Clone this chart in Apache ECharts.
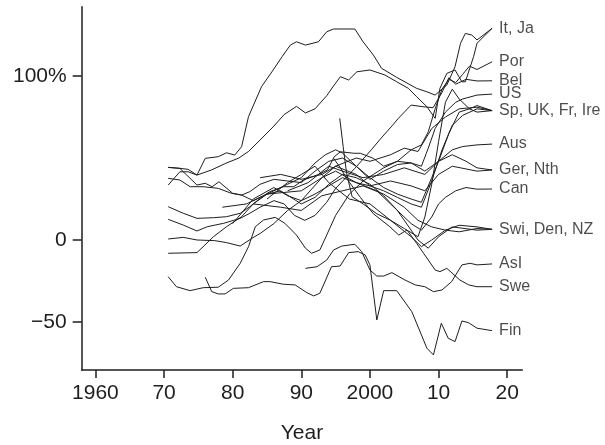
<!DOCTYPE html>
<html>
<head>
<meta charset="utf-8">
<script src="https://cdn.jsdelivr.net/npm/echarts@6/dist/echarts.min.js"></script>
<style>
  html, body { margin: 0; padding: 0; background: #fff; }
  #chart { width: 605px; height: 445px; }
</style>
</head>
<body>
<div id="chart"></div>
<script>
// Per-country series: [year, percent]
const It = [[1970.6,44.3],[1972.3,43.7],[1973.5,43.1],[1974.8,39.6],[1976,49.8],[1977.9,50.8],[1979.1,53.2],[1980.3,51.8],[1981.3,56.9],[1982.3,75.2],[1984.2,93.5],[1985.9,103.7],[1987.2,111.8],[1988.4,118.9],[1989.3,120.9],[1990.6,118.9],[1992.5,120.9],[1993.7,127],[1994.7,128.7],[1997.8,128.7],[1999,120.9],[2000.5,112.8],[2001.7,104.7],[2003.9,99.2],[2006.8,92.5],[2008.3,90.4],[2009.5,88.4],[2011.2,94.5],[2012.4,105.7],[2013.2,120],[2013.9,126],[2014.85,125],[2015.6,122]];
const Ja = [[1970.6,33.5],[1972.3,41.6],[1973.5,41.6],[1974.8,39.6],[1976.9,42.7],[1979,46.8],[1980.9,50],[1982.3,54],[1984,61],[1986,69.5],[1987.5,76.5],[1989.3,81.5],[1990.6,77.5],[1992,80],[1993.7,88],[1994.7,94],[1995.7,99.6],[1996.9,97.6],[1998.1,102.6],[2000,103.7],[2002.2,100.6],[2003.9,96.5],[2005.6,92.5],[2006.8,87.4],[2008.3,81.3],[2009.5,74.2],[2010.2,92.5],[2011.2,101.6],[2012.4,103.7],[2013.4,96.5],[2013.9,96.5],[2015.1,111.8],[2015.6,120]];
const Por = [[1970.6,-22.4],[1971.8,-28.5],[1973.8,-30.9],[1975.7,-29.1],[1977.9,-28.8],[1979.4,-24.4],[1981.1,-14.2],[1982.3,-4.1],[1983.3,8.1],[1984.5,12.2],[1986.2,13.8],[1987.6,10.2],[1989.3,3],[1990.6,-5],[1991.5,-8.1],[1992.7,-6.1],[1993.7,3],[1995,15],[1997,28],[1999,36],[2000.5,40],[2002,44],[2004,48],[2006,55],[2007.5,58],[2008.5,66],[2009.5,80],[2010.5,92],[2011.5,98],[2012.5,96],[2013.5,101],[2014.5,106],[2015.6,104]];
const Bel = [[1970.6,12.6],[1972.8,9.1],[1974.8,5.5],[1976.3,8.1],[1978.7,10.2],[1981.1,13.2],[1982.5,16.3],[1984,20],[1986,24],[1987.5,22],[1989,15],[1990.5,12],[1992,15],[1993.7,23],[1995,31.5],[1997.8,43.7],[2000.2,55],[2001.6,62],[2003.3,70],[2004.1,74],[2006,82.3],[2007.7,81.3],[2009.2,80.7],[2010.5,90],[2011.5,99],[2012.5,95],[2014,98],[2015.6,97]];
const US = [[1970.6,20.3],[1972.8,16.3],[1974.8,13.2],[1977.2,13.6],[1979.1,14.2],[1981.1,16.3],[1982.5,20.3],[1984,25.4],[1985.4,29.5],[1987.4,32.5],[1988.9,32.5],[1990.3,36.6],[1992.3,39.6],[1993.8,42.7],[1994.8,50.8],[1995.7,53.8],[1997.7,52.9],[1998.6,52.9],[2000.5,49.8],[2002,45],[2004,48],[2006,47],[2007.5,45],[2008.5,56],[2009.5,68],[2011,78],[2012.5,84],[2013.5,86],[2015.6,88.4]];
const Sp = [[1970.6,37.6],[1972.3,36.6],[1973.8,32.5],[1975.7,32.5],[1977.9,31.5],[1979.8,28.5],[1981.3,27.4],[1983,24],[1984.5,27],[1986,30],[1988,34],[1990,38],[1992,47],[1993.5,52],[1995,55],[1996,53],[1998,45],[2000,38],[2002,32],[2004,28],[2006,25],[2007.5,23],[2009,38],[2010,48],[2011.5,65],[2013,78],[2014.5,80],[2015.6,82]];
const UK = [[1970.6,0.6],[1972.8,1.6],[1974.8,0],[1977.4,-0.4],[1979.1,-1.6],[1981.1,-3.7],[1982.8,1],[1984,4],[1986,10],[1988,18],[1990,24],[1992,28],[1994,33],[1996,38],[1998,35],[2000,33],[2002,30],[2004,26],[2006,22],[2007.5,20],[2009,36],[2010.5,55],[2012,70],[2013.5,76],[2015.6,80]];
const Fr = [[1978.5,20],[1982,22],[1985,28],[1990,30],[1993,38],[1995,45],[1998,50],[2000,48],[2003,52],[2005,56],[2007,54],[2009,68],[2011,75],[2013,80],[2015.6,81]];
const Ire = [[1995.6,74.2],[1996.1,56.9],[1996.6,40.7],[1997.4,26.4],[1999,22],[2001,16],[2003,12],[2005,7],[2007,2],[2008,14],[2009,34],[2010,60],[2011,84],[2012,92],[2013,86],[2014.5,80],[2015.6,78]];
const Aus = [[1988,30],[1991,35],[1994,45],[1996,42],[1999,38],[2002,40],[2005,44],[2008,40],[2010,48],[2012,55],[2013.5,57],[2015.6,58]];
const Ger = [[1970.6,44.3],[1972.3,43.7],[1974.8,33.5],[1976,34.6],[1977,32.5],[1978,35.5],[1980,28.5],[1981.3,27.4],[1982.5,29.5],[1984,34],[1986,37],[1988,36],[1990,35],[1992,42],[1994,48],[1996,50],[1998,45],[2000,37],[2002,42],[2004,46],[2006,47],[2008,42],[2010,48],[2012,52],[2014,48],[2015.6,44]];
const Nth = [[1984,38],[1987,40],[1990,37],[1993,40],[1995,45],[1998,40],[2000,33],[2003,36],[2006,33],[2008,30],[2010,40],[2012,45],[2015.6,42]];
const Can = [[1970.6,-8.1],[1974.8,-7.7],[1977.2,2],[1979.1,8.1],[1981.3,14.2],[1983,22],[1985,28],[1987,30],[1988.5,26],[1990,22],[1992,26],[1994,34],[1996,40],[1998,38],[2000,34],[2002,27],[2004,18],[2006,10],[2007.5,6],[2009,14],[2010,22],[2011,26],[2012.5,30],[2014,32],[2015.6,31]];
const Swi = [[1983,22],[1987,20],[1990,18],[1993,27],[1996,30],[1999,33],[2002,28],[2005,20],[2007,12],[2009,8],[2011,6],[2013,5],[2015.6,7]];
const Den = [[1980,10],[1983,25],[1986,32],[1988,27],[1990,24],[1993,38],[1995,42],[1998,35],[2001,30],[2004,18],[2007,0],[2008.5,-5],[2010,2],[2012,8],[2015.6,6]];
const NZ = [[1985,25],[1988,35],[1990,40],[1992,45],[1994,35],[1997,25],[2000,22],[2003,12],[2006,2],[2007.5,-4],[2009,0],[2011,6],[2013,9],[2015.6,8]];
const AsI = [[1990.6,-17.3],[1992.3,-16.3],[1993.7,-12.2],[1994.7,-6.1],[1995.9,-3.7],[1997.8,-2.6],[1998.8,-7.1],[2000,-18.3],[2001,-22],[2002,-22],[2003.2,-19.9],[2005.1,-24.4],[2006.6,-27.4],[2008,-28.5],[2009.25,-31.5],[2010.5,-30.5],[2011.9,-25.4],[2013.4,-15.2],[2014.6,-14.2],[2015.6,-15.2]];
const Swe = [[1994.7,49.8],[1995.7,44],[1996.6,37.6],[1998.6,26],[2000.5,16],[2002.9,8.1],[2004.2,3],[2005.4,6.1],[2006.8,-2],[2008.5,-12.2],[2009.5,-18.3],[2010.2,-19.3],[2011.2,-17.3],[2013.1,-24.4],[2014.4,-27.4],[2015.6,-28.5]];
const Fin = [[1976,-22.7],[1976.95,-31.5],[1977.9,-32.9],[1978.9,-32.9],[1980.1,-29.5],[1982.3,-29.1],[1984.5,-25.4],[1985.45,-25.4],[1987.4,-27],[1989.1,-27.4],[1990.8,-32.1],[1991.8,-34.1],[1992.7,-32.5],[1994.4,-16.3],[1995.65,-15.9],[1996.9,-7.7],[1998.3,-7.1],[1999.3,-9.1],[2000,-15.2],[2001,-48.8],[2002,-30.9],[2003.9,-30.9],[2006.1,-43.7],[2008.3,-66],[2009.25,-70.1],[2010.4,-50.8],[2011.4,-59.9],[2012.4,-62],[2013.4,-49.4],[2014.35,-50.4],[2015.6,-53.8]];

const countries = { It, Ja, Por, Bel, US, Sp, UK, Fr, Ire, Aus, Ger, Nth, Can, Swi, Den, NZ, AsI, Swe, Fin };

// End-of-line labels and the countries each one names
const endLabels = ['It, Ja', 'Por', 'Bel', 'US', 'Sp, UK, Fr, Ire', 'Aus', 'Ger, Nth', 'Can', 'Swi, Den, NZ', 'AsI', 'Swe', 'Fin'];
const endLabelValues = [129.1, 108.7, 97.1, 89, 78.9, 58.5, 42.7, 31.1, 6.5, -14.6, -28.5, -55.3];
const endLabelMembers = [['It','Ja'], ['Por'], ['Bel'], ['US'], ['Sp','UK','Fr','Ire'], ['Aus'], ['Ger','Nth'], ['Can'], ['Swi','Den','NZ'], ['AsI'], ['Swe'], ['Fin']];
const leaderYear = 2017.8;

const xTicks = [1960, 1970, 1980, 1990, 2000, 2010, 2020];
const xTickText = ['1960', '70', '80', '90', '2000', '10', '20'];
const yTicks = [-50, 0, 100];
const yTickText = ['\u221250', '0', '100%'];

const FONT = '"Liberation Sans", Arial, Helvetica, sans-serif';
const INK = '#1e1e1e';

const series = [];
Object.keys(countries).forEach(name => {
  series.push({
    name, type: 'line', data: countries[name], showSymbol: false, symbol: 'none',
    lineStyle: { color: INK, width: 1 }, silent: true, z: 2
  });
});
// short leader strokes from each line's last point to its label
endLabelMembers.forEach((members, i) => {
  members.forEach(name => {
    const pts = countries[name];
    series.push({
      type: 'line', showSymbol: false, symbol: 'none', silent: true,
      data: [pts[pts.length - 1], [leaderYear, endLabelValues[i]]],
      lineStyle: { color: INK, width: 1 }, z: 2
    });
  });
});
series.push({
  type: 'scatter', symbolSize: 0, silent: true,
  data: endLabels.map((t, i) => [leaderYear, endLabelValues[i], t]),
  label: {
    show: true, position: 'right', distance: 7,
    formatter: p => p.data[2],
    color: INK, fontSize: 16, fontFamily: FONT
  }
});

const chart = echarts.init(document.getElementById('chart'), null, { renderer: 'canvas' });
chart.setOption({
  animation: false,
  backgroundColor: '#fff',
  grid: { left: 81.7, right: 82.7, top: 6.7, bottom: 75, containLabel: false, outerBoundsMode: 'none' },
  xAxis: {
    type: 'value', min: 1958, max: 2022.2,
    name: 'Year', nameLocation: 'middle', nameGap: 53,
    nameTextStyle: { fontSize: 21, color: INK, fontFamily: FONT },
    axisLine: { show: true, onZero: false, lineStyle: { color: INK, width: 1.5 } },
    axisTick: { show: true, length: 8, customValues: xTicks, lineStyle: { color: INK, width: 1.5 } },
    axisLabel: {
      show: true, customValues: xTicks, margin: 13,
      fontSize: 21, color: INK, fontFamily: FONT,
      formatter: v => xTickText[xTicks.indexOf(v)]
    },
    splitLine: { show: false }
  },
  yAxis: {
    type: 'value', min: -79.3, max: 142.3,
    axisLine: { show: true, onZero: false, lineStyle: { color: INK, width: 1.5 } },
    axisTick: { show: true, length: 9, customValues: yTicks, lineStyle: { color: INK, width: 1.5 } },
    axisLabel: {
      show: true, customValues: yTicks, margin: 15,
      fontSize: 21, color: INK, fontFamily: FONT,
      formatter: v => yTickText[yTicks.indexOf(v)]
    },
    splitLine: { show: false }
  },
  series
});
</script>
</body>
</html>
